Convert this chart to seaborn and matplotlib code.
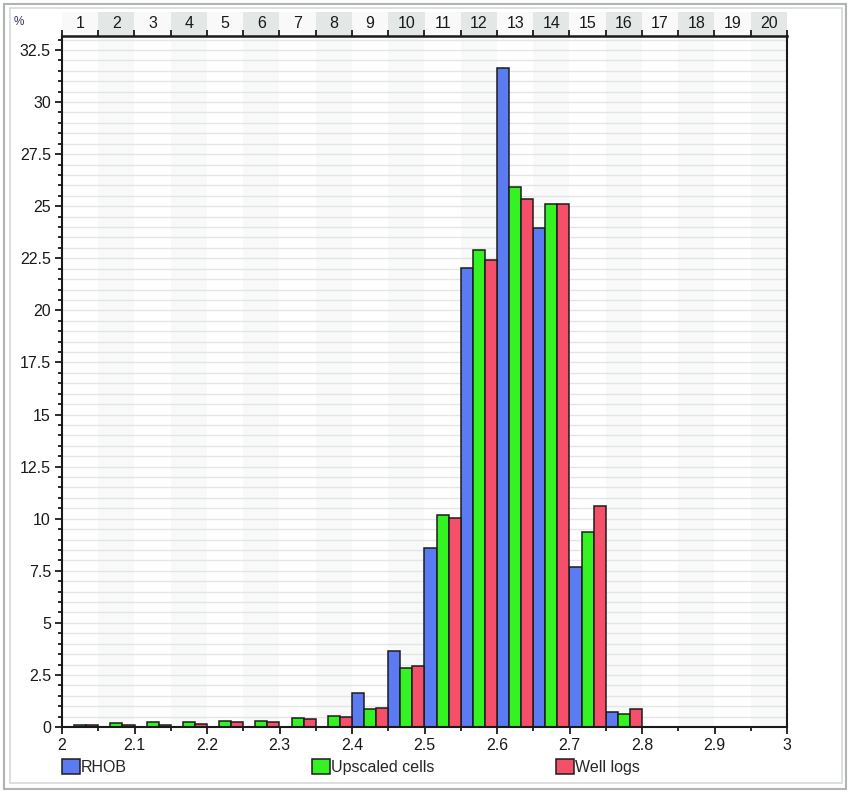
import numpy as np
import pandas as pd
import matplotlib
matplotlib.use("Agg")
import matplotlib.pyplot as plt
import matplotlib.ticker as mticker
from matplotlib.patches import Patch, Rectangle
import seaborn as sns

# Histogram of bulk density (g/cc), 20 bins of 0.05 between 2.0 and 3.0
bin_centers = [2.025, 2.075, 2.125, 2.175, 2.225, 2.275, 2.325, 2.375, 2.425, 2.475,
               2.525, 2.575, 2.625, 2.675, 2.725, 2.775, 2.825, 2.875, 2.925, 2.975]
bin_numbers = ["1", "2", "3", "4", "5", "6", "7", "8", "9", "10",
               "11", "12", "13", "14", "15", "16", "17", "18", "19", "20"]
rhob = [0, 0, 0, 0, 0, 0, 0, 0, 1.63, 3.65,
        8.6, 22.05, 31.65, 23.95, 7.7, 0.73, 0, 0, 0, 0]
upscaled = [0.11, 0.18, 0.25, 0.25, 0.3, 0.3, 0.42, 0.54, 0.86, 2.83,
            10.2, 22.9, 25.9, 25.1, 9.35, 0.62, 0, 0, 0, 0]
well_logs = [0.1, 0.11, 0.1, 0.16, 0.25, 0.25, 0.37, 0.48, 0.93, 2.91,
             10.05, 22.4, 25.35, 25.1, 10.6, 0.86, 0, 0, 0, 0]
series_names = ["RHOB", "Upscaled cells", "Well logs"]
colors = ["#5b7bf2", "#35f222", "#f5506a"]

df = pd.DataFrame({"density": bin_centers, "RHOB": rhob,
                   "Upscaled cells": upscaled, "Well logs": well_logs})
df = df.melt(id_vars="density", var_name="series", value_name="pct")

sns.set_style("white")
plt.rcParams["font.family"] = ["Liberation Sans", "DejaVu Sans"]

W, H = 851, 793
fig = plt.figure(figsize=(W / 100, H / 100), dpi=100)
fig.patch.set_facecolor("white")
ax = fig.add_axes([62 / W, 1 - 727 / H, 725 / W, 691 / H])
hdr = fig.add_axes([62 / W, 1 - 36 / H, 725 / W, 24 / H])

# alternating column shading
for i in range(20):
    left = 2.0 + 0.05 * i
    if i % 2 == 1:
        ax.axvspan(left, left + 0.05, color="#f8f9f8", zorder=0, lw=0)
        hdr.axvspan(left, left + 0.05, color="#e3e7e5", zorder=0, lw=0)

# horizontal grid every 0.5
for y in np.arange(0.5, 33.5, 0.5):
    ax.axhline(y, color="#e2e6e4", lw=1.0, zorder=0.5)

sns.barplot(data=df, x="density", y="pct", hue="series", hue_order=series_names,
            palette=colors, saturation=1, native_scale=True, width=1, errorbar=None,
            edgecolor="#1c1c1c", linewidth=1.1, ax=ax, zorder=2)
if ax.get_legend() is not None:
    ax.get_legend().remove()

ax.set_xlim(2, 3)
ax.set_ylim(0, 33.17)
ax.set_xlabel("")
ax.set_ylabel("")
ax.set_xticks(np.arange(2, 3.001, 0.1))
ax.xaxis.set_minor_locator(mticker.MultipleLocator(0.05))
ax.set_yticks(np.arange(0, 32.6, 2.5))
ax.yaxis.set_minor_locator(mticker.MultipleLocator(0.5))
fmt = mticker.FuncFormatter(lambda v, p: f"{v:g}")
ax.xaxis.set_major_formatter(fmt)
ax.yaxis.set_major_formatter(fmt)
ax.tick_params(which="major", direction="out", length=5, width=1.3,
               color="#1a1a1a", labelsize=11.5, labelcolor="#1a1a1a", pad=3)
ax.tick_params(which="minor", direction="out", length=3, width=1.3, color="#1a1a1a")
ax.tick_params(axis="x", which="both", bottom=True)
ax.tick_params(axis="y", which="both", left=True)
for s in ["left", "bottom", "right"]:
    ax.spines[s].set_visible(True)
    ax.spines[s].set_color("#1a1a1a")
    ax.spines[s].set_linewidth(1.5)
ax.spines["top"].set_visible(False)

# header strip with bin numbers
hdr.set_xlim(2, 3)
hdr.set_ylim(0, 1)
for c, lab in zip(bin_centers, bin_numbers):
    hdr.text(c, 0.5, lab, ha="center", va="center", fontsize=11.5, color="#1a1a1a")
hdr.set_xticks(np.arange(2, 3.001, 0.05))
hdr.set_yticks([])
hdr.tick_params(axis="x", direction="in", length=4, width=1.3, color="#1a1a1a",
                labelbottom=False, bottom=True)
for s in ["left", "right", "top"]:
    hdr.spines[s].set_visible(False)
hdr.spines["bottom"].set_color("#1a1a1a")
hdr.spines["bottom"].set_linewidth(1.8)
hdr.patch.set_facecolor("#f8f9f8")

fig.text(14 / W, 1 - 22 / H, "%", fontsize=8.5, color="#333366", va="center")

# legend entries spread out below the axis, one small legend each
legend_x = [62, 312, 556]
for name, c, lx in zip(series_names, colors, legend_x):
    leg = fig.legend([Patch(facecolor=c, edgecolor="#1c1c1c", lw=1.1)], [name],
                     loc="center left", bbox_to_anchor=(lx / W, 1 - 767 / H),
                     frameon=False, fontsize=11.5, handlelength=1.1, handleheight=1.1,
                     handletextpad=0.1, borderpad=0, borderaxespad=0)

# window frame
fig.patches.append(Rectangle((4 / W, 4 / H), 842 / W, 785 / H, transform=fig.transFigure,
                             fill=False, edgecolor="#b0b4b2", lw=1.5))
fig.patches.append(Rectangle((10 / W, 10 / H), 832 / W, 775 / H, transform=fig.transFigure,
                             fill=False, edgecolor="#d6d9d8", lw=1.2))

fig.savefig("out.png", dpi=100)
